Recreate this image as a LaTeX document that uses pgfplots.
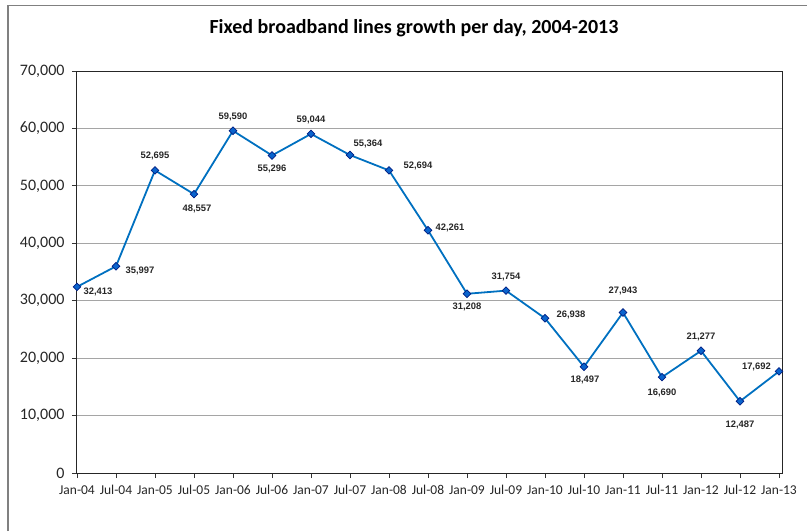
\documentclass[border=0pt]{standalone}
\usepackage{fontspec}
\setmainfont{Carlito}
\newfontfamily\datafont{Liberation Sans}
\usepackage{pgfplots}
\usepackage{pgfplotstable}
\pgfplotsset{compat=1.18}
\definecolor{linecol}{RGB}{0,112,192}
\definecolor{mkfill}{RGB}{10,100,205}
\definecolor{mkdraw}{RGB}{0,30,130}
\definecolor{gridcol}{RGB}{165,165,165}
\pgfplotstableread{
x y dx dy
0 32413 21 -5
1 35997 24 -4.5
2 52695 0 14
3 48557 3 -14.6
4 59590 0 14
5 55296 0 -14
6 59044 0 13.5
7 55364 18 10.7
8 52694 29 4
9 42261 22 2
10 31208 0 -13.5
11 31754 0 13.7
12 26938 26 3.7
13 18497 1 -13.3
14 27943 0 21.3
15 16690 0 -15.3
16 21277 0 13.7
17 12487 0 -23.7
18 17692 -22.6 4
}\datatab
\begin{document}
\begin{tikzpicture}
\useasboundingbox (-77pt,-58pt) rectangle (730pt,473pt);
\draw[color=black!50,line width=1.5pt] (-69pt,-58pt) -- (-69pt,467.3pt) -- (730pt,467.3pt);
\begin{axis}[
  at={(0pt,0pt)}, anchor=south west,
  scale only axis, width=705pt, height=402pt,
  xmin=0, xmax=18.077, ymin=0, ymax=70000,
  xtick={0,...,18},
  xticklabels={Jan-04,Jul-04,Jan-05,Jul-05,Jan-06,Jul-06,Jan-07,Jul-07,Jan-08,Jul-08,Jan-09,Jul-09,Jan-10,Jul-10,Jan-11,Jul-11,Jan-12,Jul-12,Jan-13},
  ytick={0,10000,...,70000},
  /pgf/number format/assume math mode=true,
  yticklabel={\pgfmathprintnumber[fixed,precision=0,1000 sep={,}]{\tick}},
  scaled y ticks=false,
  tick pos=left, tick align=outside,
  major tick length=5pt,
  tick style={color=black!80, line width=0.8pt},
  axis line style={color=black!85, line width=1pt},
  ymajorgrids, grid style={color=gridcol, line width=0.9pt},
  yticklabel style={font=\fontsize{16}{19}\selectfont, color=black!85, xshift=-4pt},
  xticklabel style={font=\fontsize{13.5}{16}\selectfont, color=black!85, yshift=-4pt},
  title={Fixed broadband lines growth per day, 2004-2013},
  title style={at={(0.478,1)}, anchor=base, yshift=32pt, font=\bfseries\fontsize{20}{24}\selectfont},
  clip=false,
]
\addplot[color=linecol, line width=1.8pt, mark=square*, mark size=2.7pt,
  mark options={rotate=45, fill=mkfill, draw=mkdraw, line width=0.7pt, solid},
  point meta=explicit,
  visualization depends on={\thisrow{dx} \as \dx},
  visualization depends on={\thisrow{dy} \as \dy},
  nodes near coords={\pgfmathprintnumber[fixed,precision=0,1000 sep={,}]{\pgfplotspointmeta}},
  every node near coord/.append style={anchor=center, inner sep=0pt, xshift=\dx pt, yshift=\dy pt,
    font=\datafont\bfseries\fontsize{9.4}{11}\selectfont, color=black!85},
] table[x=x, y=y, meta=y] {\datatab};
\end{axis}
\end{tikzpicture}
\end{document}
